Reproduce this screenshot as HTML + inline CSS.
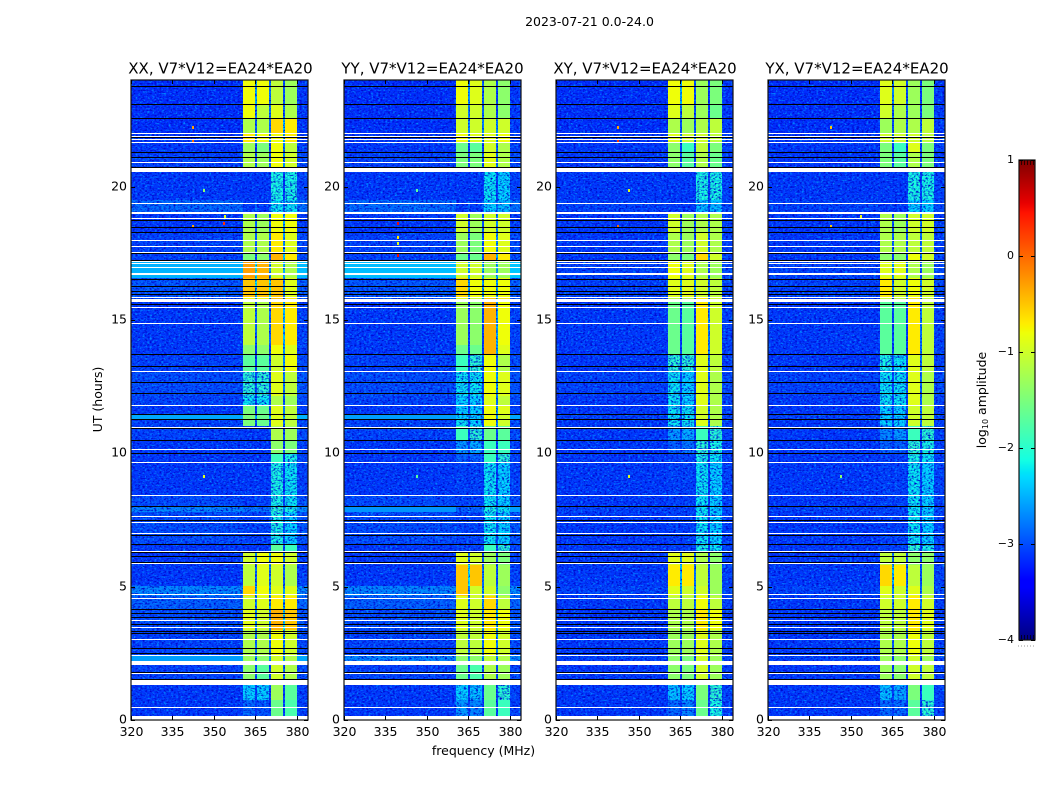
<!DOCTYPE html>
<html lang="en">
<head>
<meta charset="utf-8">
<title>2023-07-21 0.0-24.0</title>
<style>
html,body{margin:0;padding:0;background:#fff;width:1050px;height:800px;overflow:hidden}
svg{display:block}
text{font-family:"DejaVu Sans","Liberation Sans",sans-serif;fill:#000}
</style>
</head>
<body>
<svg id="chart" xmlns="http://www.w3.org/2000/svg" width="1050" height="800" viewBox="0 0 1050 800">
<defs>
<filter id="grain-light" x="0" y="0" width="1" height="1" color-interpolation-filters="sRGB">
<feTurbulence type="fractalNoise" baseFrequency="0.42 0.6" numOctaves="2" seed="3"/>
<feColorMatrix type="matrix" values="0 0 0 0 0  0 0 0 0 0.58  0 0 0 0 1  3 0 0 0 -1.5"/>
<feComposite operator="in" in2="SourceAlpha"/>
</filter>
<filter id="grain-dark" x="0" y="0" width="1" height="1" color-interpolation-filters="sRGB">
<feTurbulence type="fractalNoise" baseFrequency="0.42 0.6" numOctaves="2" seed="11"/>
<feColorMatrix type="matrix" values="0 0 0 0 0  0 0 0 0 0.02  0 0 0 0 0.8  0 3.2 0 0 -1.5"/>
<feComposite operator="in" in2="SourceAlpha"/>
</filter>
</defs>
</svg>
<script>
// Frequency cell edges (MHz): background, band A, notch, band B, notch, band C, notch, band D, background
const freqEdges = [320, 360.4, 365, 365.7, 369.8, 370.6, 374.9, 375.6, 379.9, 384];
// Time segment edges (UT hours), top of plot downward
const timeEdges = [24, 23.1, 22.58, 22.01, 21.68, 21.3, 20.74, 20.55, 19.5, 19.01,
  18.3, 17.51, 17.18, 16.58, 15.86, 15.68, 14.06, 13.73, 13.05, 12.15,
  11.81, 11.48, 11.25, 11.03, 10.5, 9.98, 9.64, 8.44, 7.99, 7.8,
  6.6, 6.26, 5.81, 5.03, 4.65, 4.13, 3.38, 2.44, 2.21, 2.06, 1.5, 1.31, 0.75, 0.15];

// log10 amplitude per time segment, per polarisation
const xxBg = [-3.15,-3.15,-3.15,-3.1,-3.1,-3.05,-3.1,-3.1,-2.85,-3.1,
  -3.05,-3.05,-2.5,-2.95,-3,-3.1,-3.1,-3.05,-3,-3.05,
  -3.1,-2.55,-3.05,-3.05,-3.1,-3.1,-3.1,-3,-2.7,-3,
  -3.1,-3.1,-3.1,-2.7,-2.9,-3,-3.05,-2.6,-3,-3.05,-3,-3.1,-3.1];
const xxA = [-0.8,-0.8,-1.2,-0.7,-1.3,-1.2,-1.2,-3.1,-3.1,-1.2,
  -1.2,-1.5,-0.3,-0.5,-0.8,-1.1,-1.4,-1.7,-2,-2.2,
  -1.5,-1.5,-1.5,-3.1,-3.1,-3.1,-3.1,-3.1,-2.8,-3.05,
  -3.1,-1,-1.1,-0.6,-1,-0.9,-1.2,-1.3,-1.3,-1.4,-1.4,-2.3,-2.85];
const xxB = [-0.8,-1.1,-1.2,-0.8,-1.5,-1.3,-1.3,-3.1,-3.1,-1.3,
  -1.2,-1.4,-0.4,-0.5,-0.8,-1.2,-1.4,-1.7,-2,-2.2,
  -1.6,-1.6,-1.6,-3.1,-3.1,-3.1,-3.1,-3.05,-2.8,-3.05,
  -3.1,-0.8,-0.9,-0.8,-0.9,-1,-1.2,-1.4,-1.4,-1.7,-1.7,-2.3,-2.95];
const xxC = [-1.1,-0.9,-0.6,-0.8,-0.8,-0.8,-0.8,-2.1,-2.2,-0.8,
  -0.7,-0.4,-1,-0.5,-0.5,-0.6,-0.8,-1,-0.9,-1.2,
  -0.9,-0.9,-0.9,-1.2,-1.4,-1.9,-2.1,-2.1,-2,-2.1,
  -1.7,-0.8,-1,-0.9,-0.7,-0.4,-0.8,-1,-1,-1,-1,-1.3,-1.6];
const xxD = [-1.3,-1.2,-0.7,-0.7,-1.1,-1,-1,-2.1,-2.2,-0.8,
  -0.9,-0.7,-1.2,-0.9,-0.7,-0.7,-0.9,-0.8,-1.1,-1.3,
  -1.1,-1.1,-1.1,-1.3,-1.5,-2.1,-2.2,-2.2,-2.1,-2.3,
  -1.9,-1,-1.2,-0.9,-0.7,-0.5,-1,-1.2,-1.2,-1.2,-1.2,-1.7,-1.8];

const yyBg = [-3.15,-3.15,-3.15,-3.1,-3.1,-3.05,-3.1,-3.1,-2.85,-3.1,
  -3.05,-3.05,-2.45,-2.95,-3,-3.1,-3.1,-3.05,-3,-3.05,
  -3.1,-2.6,-3.05,-3.05,-3.1,-3.1,-3.1,-3,-2.65,-3,
  -3.1,-3.1,-3.1,-2.7,-2.9,-3,-3.05,-2.7,-3,-3.05,-3,-3.1,-3.1];
const yyA = [-0.8,-1,-1,-0.8,-1.6,-1.5,-1.5,-3.1,-3.1,-1,
  -1.3,-1.6,-1,-0.6,-0.9,-1.3,-1.6,-1.9,-2.2,-2.3,
  -2.3,-2.3,-2.2,-1.9,-2.6,-2.9,-3.05,-3.05,-2.9,-3.05,
  -3.05,-0.9,-0.5,-0.5,-0.9,-0.9,-1.1,-1.4,-1.4,-1.6,-1.6,-2.3,-2.6];
const yyB = [-0.9,-1,-1,-0.9,-1.7,-1.5,-1.5,-3.1,-3.1,-1.3,
  -1.5,-1.6,-1,-0.8,-1,-1.4,-1.6,-2,-2.2,-2.3,
  -2.3,-2.3,-2.3,-2,-2.5,-2.9,-3.05,-3.05,-2.9,-3.05,
  -3.05,-1,-0.5,-1,-1,-1,-1.1,-1.4,-1.4,-1.8,-1.8,-2.4,-2.7];
const yyC = [-1.2,-1.2,-1,-0.9,-1,-0.9,-0.9,-2.2,-2.3,-1,
  -0.8,-0.4,-1.3,-0.8,-0.5,-0.4,-0.4,-0.8,-0.8,-0.9,
  -0.8,-0.8,-0.8,-1.6,-1.9,-1.9,-2.2,-2.2,-2.1,-2.2,
  -1.9,-1.3,-1.1,-1,-0.6,-0.7,-0.8,-1.1,-1.1,-1.2,-1.2,-1.6,-1.7];
const yyD = [-1.4,-1.4,-1,-0.8,-1.2,-1.2,-1.2,-2.3,-2.4,-1,
  -0.9,-0.7,-1.3,-0.8,-0.7,-0.8,-0.9,-1.2,-0.9,-1.1,
  -0.9,-1,-1,-1.7,-1.9,-2,-2.3,-2.3,-2.2,-2.3,
  -2,-1.5,-1.3,-1.4,-1.1,-0.8,-1,-1.2,-1.2,-1.3,-1.3,-2,-1.9];

const xyBg = [-3.15,-3.15,-3.15,-3.1,-3.1,-3.1,-3.1,-3.1,-3.05,-3.1,
  -3.1,-3.1,-3.05,-3.05,-3.1,-3.1,-3.1,-3.1,-3.05,-3.1,
  -3.1,-3.05,-3.1,-3.1,-3.1,-3.1,-3.1,-3.1,-3.05,-3.1,
  -3.1,-3.1,-3.1,-3.05,-3.1,-3.1,-3.1,-3.05,-3.1,-3.1,-3.1,-3.1,-3.1];
const xyA = [-0.8,-0.9,-1.2,-0.9,-1.4,-1.4,-1.4,-3.1,-3.1,-1,
  -1.2,-1.4,-0.8,-0.9,-1.1,-1.6,-1.6,-2,-2.2,-2.2,
  -2.2,-2.2,-2.2,-2.6,-2.9,-3.05,-3.05,-3.05,-3.05,-3.05,
  -3.05,-0.9,-0.7,-0.9,-1.1,-1.2,-1.3,-1.4,-1.4,-1.4,-1.4,-2.4,-2.85];
const xyB = [-0.8,-1.1,-1.3,-1,-1.9,-1.7,-1.7,-3.1,-3.1,-1.3,
  -1.3,-1.5,-0.9,-0.9,-1.2,-1.7,-1.7,-2,-2.3,-2.3,
  -2.2,-2.2,-2.2,-2.5,-2.8,-3.05,-3.05,-3.05,-3.05,-3.05,
  -3.05,-0.9,-0.7,-1,-1.1,-1.2,-1.3,-1.5,-1.5,-1.5,-1.5,-2.3,-2.7];
const xyC = [-1.3,-1.3,-1.2,-1,-1.1,-1.2,-1.2,-2.1,-2.4,-1.2,
  -1,-0.6,-1.2,-1,-0.7,-0.7,-0.7,-0.9,-0.9,-0.9,
  -1,-1,-0.9,-1.9,-2,-2.1,-2.2,-2.2,-2.2,-2.2,
  -2.1,-1.2,-1.1,-1,-0.8,-0.7,-0.9,-1,-1,-1,-1,-1.5,-1.6];
const xyD = [-1.5,-1.6,-1.1,-1.1,-1.5,-1.6,-1.6,-2.1,-2.4,-1.2,
  -1.2,-1,-1.3,-1.1,-1,-1,-1,-1.1,-1.2,-1.2,
  -1.2,-1.2,-1.2,-2,-2.1,-2.2,-2.3,-2.3,-2.3,-2.3,
  -2.2,-1.4,-1.3,-1.3,-1.1,-0.8,-1.2,-1.3,-1.3,-1.3,-1.3,-2,-2.1];

const yxBg = [-3.15,-3.15,-3.15,-3.1,-3.1,-3.1,-3.1,-3.1,-3.05,-3.1,
  -3.1,-3.1,-3.05,-3.05,-3.1,-3.1,-3.1,-3.1,-3.05,-3.1,
  -3.1,-3.05,-3.1,-3.1,-3.1,-3.1,-3.1,-3.1,-3.05,-3.1,
  -3.1,-3.1,-3.1,-3.05,-3.1,-3.1,-3.1,-3.05,-3.1,-3.1,-3.1,-3.1,-3.1];
const yxA = [-0.9,-1,-1.3,-1,-1.5,-1.5,-1.5,-3.1,-3.1,-1.2,
  -1.2,-1.4,-0.9,-0.7,-1,-1.7,-1.7,-2.1,-2.2,-2.2,
  -2.3,-2.3,-2.3,-2.7,-2.9,-3.05,-3.05,-3.05,-3.05,-3.05,
  -3.05,-1.1,-0.6,-0.9,-1,-1.1,-1.2,-1.3,-1.3,-1.3,-1.3,-2.4,-2.85];
const yxB = [-1,-1.2,-1.2,-1,-1.9,-1.7,-1.7,-3.1,-3.1,-1.3,
  -1.2,-1.4,-0.9,-1,-1.1,-1.7,-1.7,-2.2,-2.2,-2.2,
  -2.3,-2.3,-2.3,-2.6,-2.9,-3.05,-3.05,-3.05,-3.05,-3.05,
  -3.05,-1.1,-0.7,-1,-1,-1.1,-1.2,-1.4,-1.4,-1.4,-1.4,-2.5,-2.85];
const yxC = [-1.3,-1.3,-1.2,-1,-0.9,-1.2,-1.2,-2.1,-2.3,-1,
  -1.1,-0.8,-1.2,-0.8,-0.7,-0.7,-0.7,-0.9,-0.9,-0.9,
  -1,-1,-1,-1.9,-2,-2.1,-2.2,-2.2,-2.2,-2.2,
  -2,-1.4,-1.1,-0.9,-0.7,-0.7,-0.8,-1,-1,-1,-1,-1.5,-1.7];
const yxD = [-1.5,-1.5,-1.1,-1.1,-1.5,-1.5,-1.5,-2.1,-2.3,-1,
  -1.1,-1,-1.3,-1,-1.1,-1.1,-1.1,-1.1,-1.2,-1.2,
  -1.1,-1.1,-1.1,-2,-2.1,-2.2,-2.3,-2.3,-2.3,-2.3,
  -2.1,-1.4,-1.3,-1.2,-1,-0.9,-1.1,-1.3,-1.3,-1.1,-1.1,-1.9,-2];

// Flagged integrations (UT hours)
const whiteFlagHours = [22, 21.9, 21.78, 21.66, 20.91, 19.38, 18.81, 17.99, 17.76, 17.54, 17.21, 17.14, 16.98,
  15.87, 15.48, 14.88, 13.09, 11.8, 11, 10.15, 9.66, 8.43, 7.64, 7.41, 7, 6.35, 5.88, 4.71, 4.56,
  3.74, 3.48, 3.03, 2.44, 1.75, 0.48];
const whiteSpanStart = [20.71, 19.04, 16.77, 15.79, 2.21, 1.5];
const whiteSpanEnd = [20.56, 18.98, 16.7, 15.68, 2.06, 1.31];
const blackFlagHours = [23.79, 23.09, 22.56, 21.31, 21.1, 20.75, 18.75, 18.48, 18.29, 17.51, 17.25, 16.53, 16.29,
  16.1, 15.98, 15.6, 13.73, 13.26, 12.69, 12.25, 11.46, 11.29, 10.94, 10.49, 10, 8.03, 7.5, 6.94, 6.59,
  6.15, 5.94, 4.15, 4, 3.87, 3.6, 3.35, 3.25, 2.69, 2.51, 1.81];
const blackSpanStart = [21.87, 6.33, 1.54];
const blackSpanEnd = [21.81, 6.26, 1.5];

// Isolated bright outlier channels
const xxSpikeFreq = [342.4, 342.4, 342.4, 353.6, 354, 346.4, 346.4];
const xxSpikeHours = [22.24, 21.75, 18.52, 18.64, 18.9, 9.15, 19.88];
const xxSpikeValue = [-0.3, 0, -0.3, 0.3, -0.9, -0.9, -1.4];
const yySpikeFreq = [339.5, 339.5, 339.5, 339.5, 346.4, 346.4];
const yySpikeHours = [18.11, 17.89, 18.64, 17.44, 19.88, 9.15];
const yySpikeValue = [-0.7, -0.9, 0.5, 0.5, -1.7, -1.7];
const xySpikeFreq = [342.4, 342.4, 342.4, 346.4, 346.4];
const xySpikeHours = [22.24, 21.75, 18.52, 9.15, 19.88];
const xySpikeValue = [-0.3, 0.3, 0, -0.9, -0.9];
const yxSpikeFreq = [342.8, 342.8, 346.4, 353.6];
const yxSpikeHours = [22.24, 18.52, 9.15, 18.9];
const yxSpikeValue = [-0.5, -0.5, -1.4, -0.8];

// Tick labels
const freqTicks = [320, 335, 350, 365, 380];
const hourTicks = [0, 5, 10, 15, 20];
const colorbarTicks = [1, 0, -1, -2, -3, -4];

const panelTitles = ['XX, V7*V12=EA24*EA20', 'YY, V7*V12=EA24*EA20', 'XY, V7*V12=EA24*EA20', 'YX, V7*V12=EA24*EA20'];
const panelKeys = ['xx', 'yy', 'xy', 'yx'];

const svg = document.getElementById('chart');
const NS = 'http://www.w3.org/2000/svg';
const PLOT_TOP = 80, PLOT_BOTTOM = 720, PLOT_WIDTH = 177;
const PANEL_LEFT = [131, 344, 556, 768];
const TITLE_CENTER = [220.5, 432.5, 645, 857];

function make(tag, attrs, parent) {
  const el = document.createElementNS(NS, tag);
  for (const k in attrs) el.setAttribute(k, attrs[k]);
  parent.appendChild(el);
  return el;
}
function xAxis(left, f) { return left + (f - 320) * PLOT_WIDTH / 64; }
function yAxis(t) { return PLOT_BOTTOM - t * (PLOT_BOTTOM - PLOT_TOP) / 24; }
function lerp(v, pts) {
  if (v <= pts[0][0]) return pts[0][1];
  for (let i = 1; i < pts.length; i++) {
    if (v <= pts[i][0]) {
      const a = pts[i - 1], b = pts[i];
      return a[1] + (b[1] - a[1]) * (v - a[0]) / (b[0] - a[0]);
    }
  }
  return pts[pts.length - 1][1];
}
function jet(f) {
  const r = lerp(f, [[0, 0], [0.35, 0], [0.66, 1], [0.89, 1], [1, 0.5]]);
  const g = lerp(f, [[0, 0], [0.125, 0], [0.375, 1], [0.64, 1], [0.91, 0], [1, 0]]);
  const b = lerp(f, [[0, 0.5], [0.11, 1], [0.34, 1], [0.65, 0], [1, 0]]);
  return 'rgb(' + Math.round(r * 255) + ',' + Math.round(g * 255) + ',' + Math.round(b * 255) + ')';
}
function colorOf(v) { return jet((v + 4) / 5); }
function notch(bg, l, r) { return Math.max(bg, Math.min(l, r) - 1.7); }

const seriesByPanel = {
  xx: { bg: xxBg, a: xxA, b: xxB, c: xxC, d: xxD, sf: xxSpikeFreq, st: xxSpikeHours, sv: xxSpikeValue },
  yy: { bg: yyBg, a: yyA, b: yyB, c: yyC, d: yyD, sf: yySpikeFreq, st: yySpikeHours, sv: yySpikeValue },
  xy: { bg: xyBg, a: xyA, b: xyB, c: xyC, d: xyD, sf: xySpikeFreq, st: xySpikeHours, sv: xySpikeValue },
  yx: { bg: yxBg, a: yxA, b: yxB, c: yxC, d: yxD, sf: yxSpikeFreq, st: yxSpikeHours, sv: yxSpikeValue }
};

function flagRow(group, left, t0, t1, color, name) {
  const y0 = Math.round(yAxis(t0));
  const y1 = t1 === null ? y0 + 1 : Math.max(y0 + 1, Math.round(yAxis(t1)));
  const r = make('rect', { x: left, y: y0, width: PLOT_WIDTH, height: y1 - y0, fill: color, 'shape-rendering': 'crispEdges' }, group);
  
  
}

panelKeys.forEach(function (key, p) {
  const left = PANEL_LEFT[p];
  const s = seriesByPanel[key];
  const g = make('g', {}, svg);
  
  

  const cells = make('g', {}, g);
  
  

  let quietCells = '';
  for (let i = 0; i < timeEdges.length - 1; i++) {
    const y0 = Math.round(yAxis(timeEdges[i]));
    const y1 = Math.round(yAxis(timeEdges[i + 1]));
    const bg = s.bg[i], a = s.a[i], b = s.b[i], c = s.c[i], d = s.d[i];
    const rowValues = [bg, a, notch(bg, a, b), b, notch(bg, b, c), c, notch(bg, c, d), d, bg + 0.05];
    for (let j = 0; j < rowValues.length; j++) {
      const x0 = Math.round(xAxis(left, freqEdges[j]));
      const x1 = Math.round(xAxis(left, freqEdges[j + 1]));
      const v = rowValues[j];
      const cell = make('rect', { x: x0, y: y0, width: x1 - x0, height: y1 - y0, fill: colorOf(v), 'shape-rendering': 'crispEdges' }, cells);
      
      
      const isBackground = j === 0 || j === rowValues.length - 1;
      if (isBackground ? v < -2.65 : v < -1.9) {
        quietCells += 'M' + x0 + ' ' + y0 + 'H' + x1 + 'V' + y1 + 'H' + x0 + 'Z';
      }
    }
  }

  // decorative receiver-noise texture clipped to the quiet cells
  ['grain-light', 'grain-dark'].forEach(function (id) {
    const n = make('path', { d: quietCells, fill: '#000', filter: 'url(#' + id + ')' }, g);
    
    
  });

  s.sf.forEach(function (f, i) {
    const sx = Math.round(xAxis(left, f - 0.35));
    const sy = Math.round(yAxis(s.st[i] + 0.05));
    const spike = make('rect', { x: sx, y: sy, width: 2, height: 3, fill: colorOf(s.sv[i]), 'shape-rendering': 'crispEdges' }, g);
    
    
  });

  blackFlagHours.forEach(function (t) { flagRow(g, left, t, null, '#000', 'flagged-row-black'); });
  blackSpanStart.forEach(function (t, i) { flagRow(g, left, t, blackSpanEnd[i], '#000', 'flagged-span-black'); });
  whiteFlagHours.forEach(function (t) { flagRow(g, left, t, null, '#fff', 'flagged-row-white'); });
  whiteSpanStart.forEach(function (t, i) { flagRow(g, left, t, whiteSpanEnd[i], '#fff', 'flagged-span-white'); });

  const frame = make('rect', { x: left, y: PLOT_TOP, width: PLOT_WIDTH, height: PLOT_BOTTOM - PLOT_TOP, fill: 'none', stroke: '#111', 'stroke-width': 1.2 }, g);
  
  

  freqTicks.forEach(function (f) {
    const x = Math.round(xAxis(left, f)) + 0.5;
    const tb = make('line', { x1: x, x2: x, y1: PLOT_BOTTOM, y2: PLOT_BOTTOM - 4, stroke: '#000' }, g);
    
    
    const tt = make('line', { x1: x, x2: x, y1: PLOT_TOP, y2: PLOT_TOP + 4, stroke: '#000' }, g);
    
    
    const lab = make('text', { x: x, y: 736, 'text-anchor': 'middle', 'font-size': 12.5 }, g);
    lab.textContent = f;
    
    
  });

  hourTicks.forEach(function (t) {
    const y = Math.round(yAxis(t)) + 0.5;
    const tl = make('line', { x1: left, x2: left + 4, y1: y, y2: y, stroke: '#000' }, g);
    
    
    const tr = make('line', { x1: left + PLOT_WIDTH, x2: left + PLOT_WIDTH - 4, y1: y, y2: y, stroke: '#000' }, g);
    
    
    const lab = make('text', { x: left - 4, y: y + 3, 'text-anchor': 'end', 'font-size': 12.5 }, g);
    lab.textContent = t;
    
    
  });

  const title = make('text', { x: TITLE_CENTER[p], y: 73.5, 'text-anchor': 'middle', 'font-size': 15 }, g);
  title.textContent = panelTitles[p];
  
  
});

const figureTitle = make('text', { x: 589.5, y: 26, 'text-anchor': 'middle', 'font-size': 12.5 }, svg);
figureTitle.textContent = '2023-07-21 0.0-24.0';



const xTitle = make('text', { x: 483.5, y: 755, 'text-anchor': 'middle', 'font-size': 12.5 }, svg);
xTitle.textContent = 'frequency (MHz)';



const yTitle = make('text', { x: 0, y: 0, 'text-anchor': 'middle', 'font-size': 12.5, transform: 'translate(102,399.5) rotate(-90)' }, svg);
yTitle.textContent = 'UT (hours)';



// Colour bar
const CB_LEFT = 1019, CB_RIGHT = 1035, CB_TOP = 160, CB_BOTTOM = 640;
function cbY(v) { return CB_TOP + (1 - v) * (CB_BOTTOM - CB_TOP) / 5; }
const cb = make('g', {}, svg);


for (let py = CB_TOP; py < CB_BOTTOM; py++) {
  const v = 1 - 5 * (py + 0.5 - CB_TOP) / (CB_BOTTOM - CB_TOP);
  const strip = make('rect', { x: CB_LEFT, y: py, width: CB_RIGHT - CB_LEFT, height: 1, fill: colorOf(v), 'shape-rendering': 'crispEdges' }, cb);
  
  
}
[CB_TOP, CB_BOTTOM - 5].forEach(function (y0) {
  for (let x = CB_LEFT + 2; x < CB_RIGHT - 1; x += 3) {
    const m = make('line', { x1: x + 0.5, x2: x + 0.5, y1: y0, y2: y0 + 5, stroke: '#000', 'stroke-width': 0.7 }, cb);
    
    
  }
});
const cbFrame = make('rect', { x: CB_LEFT, y: CB_TOP, width: CB_RIGHT - CB_LEFT, height: CB_BOTTOM - CB_TOP, fill: 'none', stroke: '#111', 'stroke-width': 1.2 }, cb);


colorbarTicks.forEach(function (v) {
  const y = Math.round(cbY(v));
  const l = make('line', { x1: CB_LEFT, x2: CB_LEFT + 4, y1: y + 0.5, y2: y + 0.5, stroke: '#000' }, cb);
  
  
  const r = make('line', { x1: CB_RIGHT, x2: CB_RIGHT - 4, y1: y + 0.5, y2: y + 0.5, stroke: '#000' }, cb);
  
  
  const lab = make('text', { x: 1014, y: Math.max(y, CB_TOP - 1) + 3, 'text-anchor': 'end', 'font-size': 11 }, cb);
  lab.textContent = String(v).replace('-', '\u2212');
  
  
});
const cbDots = make('line', { x1: 1018, x2: 1035, y1: 646, y2: 646, stroke: '#999', 'stroke-dasharray': '1 2' }, cb);



const cbLabel = make('text', { x: 0, y: 0, 'text-anchor': 'middle', 'font-size': 12.5, transform: 'translate(986,400) rotate(-90)' }, cb);


const cbLog = make('tspan', {}, cbLabel);
cbLog.textContent = 'log';
const cbSub = make('tspan', { 'font-size': 8, dy: 2 }, cbLabel);
cbSub.textContent = '10';
const cbAmp = make('tspan', { dy: -2 }, cbLabel);
cbAmp.textContent = ' amplitude';
</script>
</body>
</html>
